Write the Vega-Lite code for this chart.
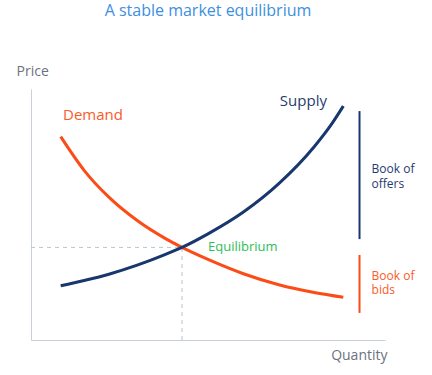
{
  "$schema": "https://vega.github.io/schema/vega-lite/v6.json",
  "autosize": "none",
  "width": 354,
  "height": 251,
  "padding": {"left": 31, "top": 89, "right": 47, "bottom": 35},
  "background": "white",
  "config": {"view": {"stroke": null}, "font": "Open Sans"},
  "title": {"text": "A stable market equilibrium", "color": "#3d8fdf", "fontSize": 16, "fontWeight": "normal", "font": "Open Sans", "anchor": "middle", "offset": 45},
  "layer": [
    {
      "data": {"values": [
        {"qa": 0, "pa": 36.9, "qb": 42.66, "pb": 36.9},
        {"qa": 42.66, "pa": 0, "qb": 42.66, "pb": 36.9}
      ]},
      "mark": {"type": "rule", "color": "#b9c4d2", "strokeWidth": 1, "strokeDash": [4, 4]},
      "encoding": {
        "x": {"field": "qa", "type": "quantitative", "scale": {"domain": [0, 100], "nice": false},
              "axis": {"title": "Quantity", "domainColor": "#c8d0dc", "domainWidth": 1, "ticks": false, "labels": false, "grid": false,
                       "titleColor": "#6b7280", "titleFont": "Open Sans", "titleFontSize": 14, "titleFontWeight": "normal",
                       "titleAlign": "right", "titleBaseline": "middle", "titleX": 356, "titleY": 15, "titleAnchor": null}},
        "y": {"field": "pa", "type": "quantitative", "scale": {"domain": [0, 100], "nice": false},
              "axis": {"title": "Price", "domainColor": "#c8d0dc", "domainWidth": 1, "ticks": false, "labels": false, "grid": false,
                       "titleColor": "#6b7280", "titleFont": "Open Sans", "titleFontSize": 14, "titleFontWeight": "normal",
                       "titleAngle": 0, "titleAlign": "left", "titleBaseline": "middle", "titleX": -15, "titleY": -18, "titleAnchor": null}},
        "x2": {"field": "qb"},
        "y2": {"field": "pb"}
      }
    },
    {
      "data": {"values": [
        {"curve": "Demand", "c": "#fb4c17", "q": 8.39, "p": 81.0},
        {"curve": "Demand", "c": "#fb4c17", "q": 15, "p": 67.6},
        {"curve": "Demand", "c": "#fb4c17", "q": 22, "p": 56.9},
        {"curve": "Demand", "c": "#fb4c17", "q": 30, "p": 47.6},
        {"curve": "Demand", "c": "#fb4c17", "q": 38, "p": 40.4},
        {"curve": "Demand", "c": "#fb4c17", "q": 42.66, "p": 36.9},
        {"curve": "Demand", "c": "#fb4c17", "q": 50, "p": 32.1},
        {"curve": "Demand", "c": "#fb4c17", "q": 60, "p": 26.4},
        {"curve": "Demand", "c": "#fb4c17", "q": 70, "p": 22.0},
        {"curve": "Demand", "c": "#fb4c17", "q": 80, "p": 18.9},
        {"curve": "Demand", "c": "#fb4c17", "q": 88.22, "p": 17.0},
        {"curve": "Supply", "c": "#17376e", "q": 8.39, "p": 21.6},
        {"curve": "Supply", "c": "#17376e", "q": 15, "p": 23.7},
        {"curve": "Supply", "c": "#17376e", "q": 22, "p": 26.2},
        {"curve": "Supply", "c": "#17376e", "q": 30, "p": 29.8},
        {"curve": "Supply", "c": "#17376e", "q": 38, "p": 34.1},
        {"curve": "Supply", "c": "#17376e", "q": 42.66, "p": 36.9},
        {"curve": "Supply", "c": "#17376e", "q": 50, "p": 42.3},
        {"curve": "Supply", "c": "#17376e", "q": 60, "p": 51.0},
        {"curve": "Supply", "c": "#17376e", "q": 70, "p": 62.3},
        {"curve": "Supply", "c": "#17376e", "q": 80, "p": 77.0},
        {"curve": "Supply", "c": "#17376e", "q": 85, "p": 86.2},
        {"curve": "Supply", "c": "#17376e", "q": 88.22, "p": 93.2}
      ]},
      "mark": {"type": "line", "strokeWidth": 3, "interpolate": "monotone", "strokeCap": "butt"},
      "encoding": {
        "x": {"field": "q", "type": "quantitative"},
        "y": {"field": "p", "type": "quantitative"},
        "detail": {"field": "curve", "type": "nominal"},
        "color": {"field": "c", "type": "nominal", "scale": null}
      }
    },
    {
      "data": {"values": [
        {"book": "offers", "c": "#17376e", "q": 92.8, "lo": 40.2, "hi": 91.2},
        {"book": "bids", "c": "#fb4c17", "q": 92.8, "lo": 10.8, "hi": 33.9}
      ]},
      "mark": {"type": "rule", "strokeWidth": 2},
      "encoding": {
        "x": {"field": "q", "type": "quantitative"},
        "y": {"field": "lo", "type": "quantitative"},
        "y2": {"field": "hi"},
        "color": {"field": "c", "type": "nominal", "scale": null}
      }
    },
    {
      "data": {"values": [
        {"label": "Demand", "q": 9.04, "p": 89.6, "c": "#fb5a2a", "s": 15},
        {"label": "Supply", "q": 70.3, "p": 95.2, "c": "#1f3b6e", "s": 15},
        {"label": "Equilibrium", "q": 50.0, "p": 37.2, "c": "#2ebd5a", "s": 13}
      ]},
      "mark": {"type": "text", "align": "left", "baseline": "middle", "font": "Open Sans"},
      "encoding": {
        "x": {"field": "q", "type": "quantitative"},
        "y": {"field": "p", "type": "quantitative"},
        "text": {"field": "label"},
        "color": {"field": "c", "type": "nominal", "scale": null},
        "size": {"field": "s", "type": "quantitative", "scale": null}
      }
    },
    {
      "data": {"values": [
        {"label": "Book of|offers", "q": 96.2, "p": 68.1, "c": "#1f3b6e"},
        {"label": "Book of|bids", "q": 96.2, "p": 25.5, "c": "#fb5a2a"}
      ]},
      "mark": {"type": "text", "align": "left", "baseline": "middle", "font": "Open Sans", "fontSize": 12, "lineBreak": "|", "lineHeight": 14.5},
      "encoding": {
        "x": {"field": "q", "type": "quantitative"},
        "y": {"field": "p", "type": "quantitative"},
        "text": {"field": "label"},
        "color": {"field": "c", "type": "nominal", "scale": null}
      }
    }
  ]
}
